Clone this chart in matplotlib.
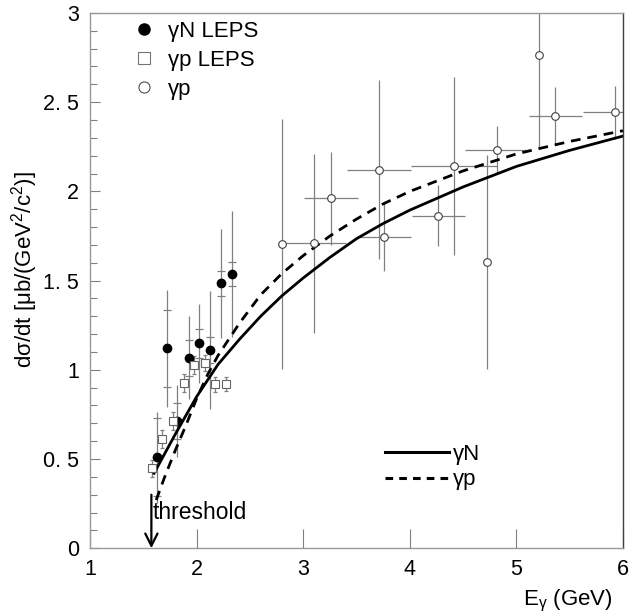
import matplotlib
matplotlib.use("Agg")
import matplotlib.pyplot as plt
from matplotlib.lines import Line2D

plt.rcParams['font.family'] = ['Liberation Sans', 'DejaVu Sans']
plt.rcParams['mathtext.fontset'] = 'custom'
plt.rcParams['mathtext.rm'] = 'Liberation Sans'
plt.rcParams['mathtext.it'] = 'Liberation Sans'

# gamma N LEPS (filled circles): value, stat error (caps), total error (line)
gn_x = [1.625, 1.725, 1.82, 1.925, 2.025, 2.126, 2.226, 2.332]
gn_y = [0.51, 1.12, 0.714, 1.067, 1.148, 1.11, 1.485, 1.537]
gn_stat = [0.22, 0.215, 0.10, 0.10, 0.08, 0.073, 0.07, 0.067]
gn_tot = [0.255, 0.33, 0.20, 0.233, 0.222, 0.33, 0.305, 0.353]

# gamma p LEPS (open squares)
gp_leps_x = [1.578, 1.678, 1.775, 1.879, 1.976, 2.076, 2.173, 2.279]
gp_leps_y = [0.447, 0.613, 0.712, 0.924, 1.026, 1.036, 0.918, 0.921]
gp_leps_err = [0.045, 0.05, 0.05, 0.05, 0.05, 0.045, 0.04, 0.04]

# gamma p world data (open circles)
gp_x = [2.804, 3.104, 3.261, 3.711, 3.758, 4.268, 4.415, 4.72, 4.818, 5.215, 5.365, 5.92]
gp_y = [1.703, 1.709, 1.961, 2.122, 1.744, 1.864, 2.142, 1.602, 2.234, 2.765, 2.423, 2.443]
gp_yerr = [0.70, 0.50, 0.26, 0.50, 0.19, 0.17, 0.50, 0.60, 0.13, 0.53, 0.16, 0.15]
gp_xerr = [0, 0.3, 0.25, 0.3, 0.25, 0.25, 0.4, 0, 0.3, 0, 0.25, 0.3]

# model curves
cn_x = [1.6, 1.7, 1.8, 2.0, 2.2, 2.4, 2.6, 2.8, 3.0, 3.25, 3.5, 3.75, 4.0, 4.25, 4.5, 5.0, 5.5, 6.0]
cn_y = [0.42, 0.53, 0.64, 0.85, 1.03, 1.17, 1.30, 1.415, 1.515, 1.63, 1.735, 1.82, 1.895, 1.96, 2.025, 2.14, 2.23, 2.31]
cp_x = [1.62, 1.7, 1.8, 1.9, 2.0, 2.1, 2.2, 2.4, 2.6, 2.8, 3.0, 3.25, 3.5, 3.75, 4.0, 4.5, 5.0, 5.5, 6.0]
cp_y = [0.27, 0.40, 0.55, 0.69, 0.84, 0.97, 1.08, 1.26, 1.42, 1.54, 1.64, 1.75, 1.845, 1.93, 2.00, 2.115, 2.21, 2.28, 2.34]

y_ticks = [0, 0.5, 1, 1.5, 2, 2.5, 3]
y_labels = ['0', '0. 5', '1', '1. 5', '2', '2. 5', '3']
x_ticks = [1, 2, 3, 4, 5, 6]

threshold = 1.575

fig = plt.figure(figsize=(6.3, 6.16), dpi=100)
ax = fig.add_axes([0.143, 0.110, 0.846, 0.869])

bar_col = '0.5'
# total errors
ax.errorbar(gn_x, gn_y, yerr=gn_tot, fmt='none', ecolor=bar_col, elinewidth=0.9)
# stat errors as caps only
ax.errorbar(gn_x, gn_y, yerr=gn_stat, fmt='none', ecolor=bar_col, elinewidth=0,
            capsize=3, capthick=0.9)
ax.errorbar(gp_leps_x, gp_leps_y, yerr=gp_leps_err, fmt='none', ecolor=bar_col,
            elinewidth=0.9, capsize=1.5, capthick=0.9)
ax.errorbar(gp_x, gp_y, yerr=gp_yerr, xerr=gp_xerr, fmt='none', ecolor=bar_col,
            elinewidth=0.9)

ax.plot(cn_x, cn_y, color='black', lw=2.0)
ax.plot(cp_x, cp_y, color='black', lw=2.0, ls=(0, (3.5, 2.5)))

ax.plot(gn_x, gn_y, 'o', color='black', ms=6, zorder=5)
ax.plot(gp_leps_x, gp_leps_y, 's', mfc='white', mec='0.4', mew=0.8, ms=6, zorder=5)
ax.plot(gp_x, gp_y, 'o', mfc='white', mec='0.25', mew=0.8, ms=5.5, zorder=5)

ax.annotate('', xy=(threshold, 0.0), xytext=(threshold, 0.30),
            arrowprops=dict(arrowstyle='->', color='black', lw=1.6, mutation_scale=22,
                            shrinkA=0, shrinkB=0))
ax.text(threshold + 0.015, 0.20, 'threshold', fontsize=16.5, va='center', ha='left')

ax.set_xlim(1, 6)
ax.set_ylim(0, 3)
ax.set_xticks(x_ticks)
ax.set_xticklabels([str(t) for t in x_ticks])
ax.set_yticks(y_ticks)
ax.set_yticklabels(y_labels)
ax.set_yticks([i * 0.1 for i in range(31) if i % 5 != 0], minor=True)

ax.tick_params(axis='x', direction='in', length=14, width=0.8, color='0.5',
               labelsize=15.5, pad=8)
ax.tick_params(axis='y', which='major', direction='in', length=7, width=0.8,
               color='0.5', labelsize=15.5, pad=8)
ax.tick_params(axis='y', which='minor', direction='in', length=5, width=0.8, color='0.5')

for side in ['left', 'bottom', 'top']:
    ax.spines[side].set_color('0.6')
    ax.spines[side].set_linewidth(1.0)
ax.spines['right'].set_color('0.25')
ax.spines['right'].set_linewidth(1.0)

ax.set_ylabel(r'd$\sigma$/dt [$\mu$b/(GeV$^2$/c$^2$)]', fontsize=16)
ax.yaxis.set_label_coords(-0.094, 0.52)
ax.set_xlabel(r'E$_\gamma$ (GeV)', fontsize=16, ha='right')
ax.xaxis.set_label_coords(0.98, -0.075)

h1 = [Line2D([], [], ls='none', marker='o', color='black', ms=8),
      Line2D([], [], ls='none', marker='s', mfc='white', mec='0.45', mew=0.8, ms=9),
      Line2D([], [], ls='none', marker='o', mfc='white', mec='0.3', mew=0.8, ms=8)]
leg1 = ax.legend(h1, ['γN LEPS', 'γp LEPS', 'γp'], loc='upper left',
                 bbox_to_anchor=(0.08, 0.985), frameon=False, fontsize=16,
                 handlelength=1.0, handletextpad=0.6, labelspacing=0.35,
                 borderpad=0, borderaxespad=0)
ax.add_artist(leg1)

h2 = [Line2D([], [], color='black', lw=2.2),
      Line2D([], [], color='black', lw=2.2, ls=(0, (2.5, 2.0)))]
ax.legend(h2, ['γN', 'γp'], loc='upper left', bbox_to_anchor=(0.553, 0.195),
          frameon=False, fontsize=16, handlelength=2.9, handletextpad=0.15,
          labelspacing=0.2, borderpad=0, borderaxespad=0)

fig.savefig('out.png', dpi=100)
